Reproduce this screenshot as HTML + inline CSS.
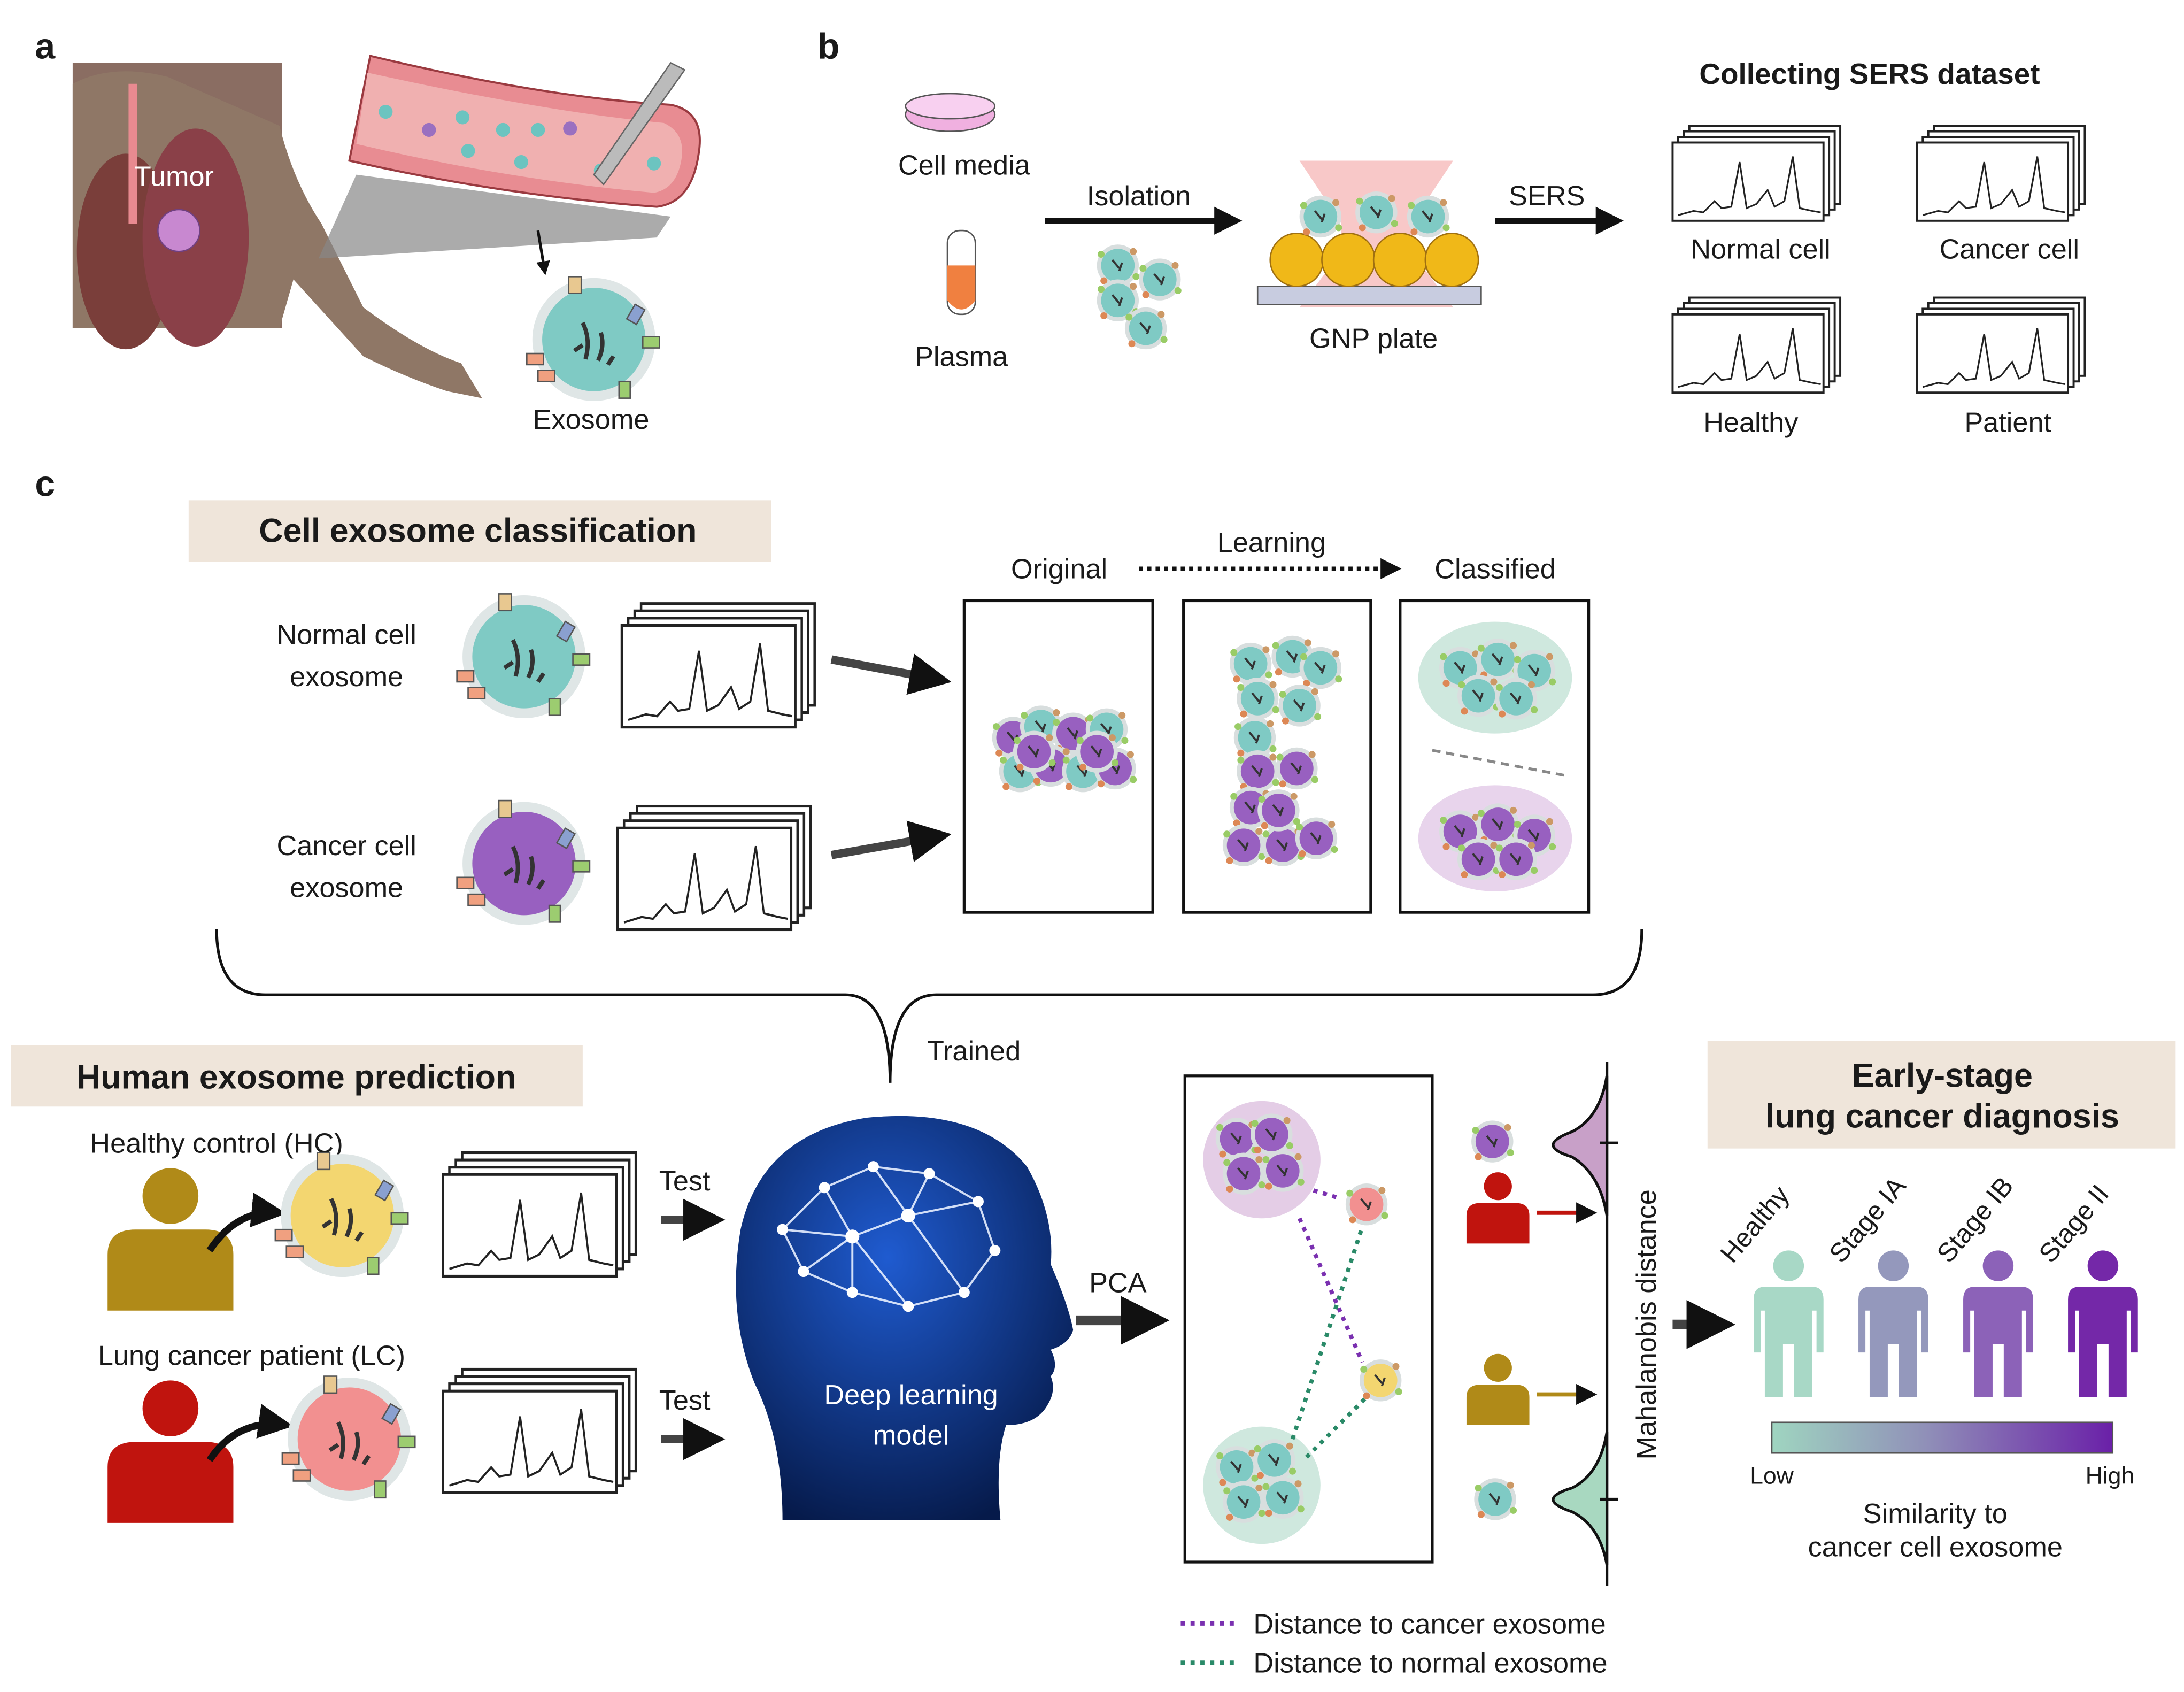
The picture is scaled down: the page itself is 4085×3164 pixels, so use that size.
<!DOCTYPE html>
<html><head><meta charset="utf-8"><style>
html,body{margin:0;padding:0;background:#fff}
svg{display:block}
text{font-family:"Liberation Sans",sans-serif;fill:#1a1a1a}
</style></head><body>
<svg width="4085" height="3164" viewBox="0 0 1563 1211" preserveAspectRatio="none" xmlns="http://www.w3.org/2000/svg">
<defs>
<g id="spec">
<rect x="12" y="-10" width="108" height="56" fill="#fff" stroke="#222" stroke-width="1.5"/>
<rect x="8" y="-6" width="108" height="56" fill="#fff" stroke="#222" stroke-width="1.5"/>
<rect x="4" y="-2" width="108" height="56" fill="#fff" stroke="#222" stroke-width="1.5"/>
<rect x="0" y="2" width="108" height="56" fill="#fff" stroke="#222" stroke-width="1.5"/>
<polyline fill="none" stroke="#222" stroke-width="1.2" points="4,54 15,51 22,52 30,44 35,49 42,48 48,16 53,49 60,46 68,36 73,48 80,44 86,12 91,49 100,51 106,52"/>
</g>
<g id="exo">
<circle r="44" fill="#dfe6e6"/>
<circle r="37" fill="currentColor"/>
<path d="M-8,-12 q6,12 2,26 M5,-5 q3,10 -2,20 M-14,8 l6,-4 M10,18 l4,-6" stroke="#333" stroke-width="3" fill="none"/>
<rect x="-18" y="-45" width="9" height="12" fill="#e8c890" stroke="#555"/>
<rect x="26" y="-24" width="8" height="12" fill="#8aa0d0" stroke="#555" transform="rotate(30 30 -18)"/>
<rect x="35" y="-2" width="12" height="8" fill="#9ccc70" stroke="#555"/>
<rect x="-48" y="10" width="12" height="8" fill="#f0a080" stroke="#555"/>
<rect x="-40" y="22" width="12" height="8" fill="#f0a080" stroke="#555"/>
<rect x="18" y="30" width="8" height="12" fill="#9ccc70" stroke="#555"/>
</g>
<g id="sexo">
<circle r="15" fill="#d8dede"/>
<circle r="12" fill="currentColor"/>
<path d="M-4,-4 l5,6 M3,-2 l-2,6" stroke="#333" stroke-width="1.5"/>
<circle cx="-12" cy="-8" r="2.5" fill="#9c6"/><circle cx="11" cy="-10" r="2.5" fill="#c96"/><circle cx="13" cy="8" r="2.5" fill="#9c6"/><circle cx="-10" cy="11" r="2.5" fill="#d85"/>
</g>
<g id="sit">
<circle cx="0" cy="-42" r="20" fill="currentColor"/>
<path d="M-45,40 L-45,0 Q-45,-18 -25,-18 L25,-18 Q45,-18 45,0 L45,40 Z" fill="currentColor"/>
</g>
<g id="stand">
<circle cx="0" cy="-44" r="11" fill="currentColor"/>
<path d="M-17,-29 Q-25,-29 -25,-20 L-25,18 L-20,18 L-20,-12 L-17,-12 L-17,50 L-4,50 L-4,12 L4,12 L4,50 L17,50 L17,-12 L20,-12 L20,18 L25,18 L25,-20 Q25,-29 17,-29 Z" fill="currentColor"/>
</g>
<linearGradient id="grad" x1="0" x2="1"><stop offset="0" stop-color="#9fd5c0"/><stop offset="0.45" stop-color="#9090b8"/><stop offset="1" stop-color="#6a20a8"/></linearGradient>
<radialGradient id="headg" cx="0.45" cy="0.35" r="0.7"><stop offset="0" stop-color="#1f5bd0"/><stop offset="1" stop-color="#061a4a"/></radialGradient>
<marker id="ah" viewBox="0 0 10 10" refX="8" refY="5" markerWidth="5" markerHeight="5" orient="auto"><path d="M0,0 L10,5 L0,10 Z" fill="#111"/></marker>
</defs>

<!-- panel a -->
<text x="25" y="42" font-size="26" font-weight="bold">a</text>
<rect x="52" y="45" width="150" height="190" fill="#8a6d62"/>
<path d="M52,60 Q80,45 120,55 L200,90 Q210,130 230,160 L260,220 Q300,250 330,260 L345,285 L320,280 Q290,270 260,255 L210,200 L200,235 L52,235 Z" fill="#8f7766"/>
<ellipse cx="90" cy="180" rx="35" ry="70" fill="#7a3e3a"/>
<ellipse cx="140" cy="170" rx="38" ry="78" fill="#8a4048"/>
<rect x="92" y="60" width="6" height="100" fill="#e88a90"/>
<circle cx="128" cy="165" r="15" fill="#c888d0" stroke="#704080"/>
<text x="96" y="133" font-size="20" style="fill:#fff">Tumor</text>
<path d="M228,185 L255,125 L480,155 L470,170 Z" fill="#888" opacity="0.7"/>
<path d="M265,40 Q390,70 480,75 Q505,80 500,110 Q495,145 470,148 Q360,140 250,115 Z" fill="#e88c92" stroke="#9a3a40" stroke-width="1.5"/>
<path d="M263,52 Q390,80 475,88 Q490,95 488,112 Q485,135 468,138 Q360,128 255,103 Z" fill="#f0b0b0"/>
<g fill="#6cc4c0"><circle cx="276" cy="80" r="5"/><circle cx="331" cy="84" r="5"/><circle cx="360" cy="93" r="5"/><circle cx="385" cy="93" r="5"/><circle cx="335" cy="108" r="5"/><circle cx="373" cy="116" r="5"/><circle cx="430" cy="122" r="5"/><circle cx="468" cy="117" r="5"/><circle cx="450" cy="98" r="5"/></g>
<g fill="#9a70c0"><circle cx="307" cy="93" r="5"/><circle cx="408" cy="92" r="5"/></g>
<path d="M425,125 L480,45 L490,50 L432,132 Z" fill="#bbb" stroke="#666"/>
<line x1="385" y1="165" x2="390" y2="195" stroke="#111" stroke-width="2" marker-end="url(#ah)"/>
<use href="#exo" x="425" y="243" style="color:#7fcac4"/>
<text x="423" y="307" font-size="20" text-anchor="middle">Exosome</text>

<!-- panel b -->
<text x="585" y="42" font-size="26" font-weight="bold">b</text>
<ellipse cx="680" cy="82" rx="32" ry="12" fill="#f0b0e0" stroke="#555"/>
<ellipse cx="680" cy="76" rx="32" ry="9" fill="#f8d0f0" stroke="#555"/>
<text x="690" y="125" font-size="20" text-anchor="middle">Cell media</text>
<rect x="678" y="165" width="20" height="60" rx="9" fill="#fff" stroke="#555"/>
<path d="M678,190 L698,190 L698,215 Q688,228 678,215 Z" fill="#f08040"/>
<text x="688" y="262" font-size="20" text-anchor="middle">Plasma</text>
<line x1="748" y1="158" x2="885" y2="158" stroke="#111" stroke-width="4" marker-end="url(#ah)"/>
<text x="815" y="147" font-size="20" text-anchor="middle">Isolation</text>
<use href="#sexo" x="800" y="190" style="color:#7fcac4"/><use href="#sexo" x="830" y="200" style="color:#7fcac4"/><use href="#sexo" x="800" y="215" style="color:#7fcac4"/><use href="#sexo" x="820" y="235" style="color:#7fcac4"/>
<path d="M930,115 L1040,115 L1010,160 L1010,180 L1040,220 L930,220 L960,180 L960,160 Z" fill="#f8c8c8"/>
<rect x="900" y="205" width="160" height="13" fill="#c8cce0" stroke="#555"/>
<g fill="#f0b818" stroke="#a07010"><circle cx="928" cy="186" r="19"/><circle cx="965" cy="186" r="19"/><circle cx="1002" cy="186" r="19"/><circle cx="1039" cy="186" r="19"/></g>
<use href="#sexo" x="945" y="155" style="color:#7fcac4"/><use href="#sexo" x="985" y="152" style="color:#7fcac4"/><use href="#sexo" x="1022" y="155" style="color:#7fcac4"/>
<text x="983" y="249" font-size="20" text-anchor="middle">GNP plate</text>
<line x1="1070" y1="158" x2="1158" y2="158" stroke="#111" stroke-width="4" marker-end="url(#ah)"/>
<text x="1107" y="147" font-size="20" text-anchor="middle">SERS</text>
<text x="1338" y="60" font-size="21" font-weight="bold" text-anchor="middle">Collecting SERS dataset</text>
<use href="#spec" x="1197" y="100"/><use href="#spec" x="1372" y="100"/><use href="#spec" x="1197" y="223"/><use href="#spec" x="1372" y="223"/>
<text x="1260" y="185" font-size="20" text-anchor="middle">Normal cell</text>
<text x="1438" y="185" font-size="20" text-anchor="middle">Cancer cell</text>
<text x="1253" y="309" font-size="20" text-anchor="middle">Healthy</text>
<text x="1437" y="309" font-size="20" text-anchor="middle">Patient</text>

<!-- panel c top -->
<text x="25" y="355" font-size="26" font-weight="bold">c</text>
<rect x="135" y="358" width="417" height="44" fill="#efe5da"/>
<text x="342" y="388" font-size="24" font-weight="bold" text-anchor="middle">Cell exosome classification</text>
<text x="248" y="461" font-size="20" text-anchor="middle">Normal cell</text>
<text x="248" y="491" font-size="20" text-anchor="middle">exosome</text>
<use href="#exo" x="375" y="470" style="color:#7fcac4"/>
<g transform="translate(445,445) scale(1.15,1.3)"><use href="#spec"/></g>
<line x1="595" y1="472" x2="675" y2="487" stroke="#444" stroke-width="6" marker-end="url(#ah)"/>
<text x="248" y="612" font-size="20" text-anchor="middle">Cancer cell</text>
<text x="248" y="642" font-size="20" text-anchor="middle">exosome</text>
<use href="#exo" x="375" y="618" style="color:#9860c0"/>
<g transform="translate(442,590) scale(1.15,1.3)"><use href="#spec"/></g>
<line x1="595" y1="612" x2="675" y2="598" stroke="#444" stroke-width="6" marker-end="url(#ah)"/>
<text x="758" y="414" font-size="20" text-anchor="middle">Original</text>
<line x1="815" y1="407" x2="1000" y2="407" stroke="#111" stroke-width="3" stroke-dasharray="3,3" marker-end="url(#ah)"/>
<text x="910" y="395" font-size="20" text-anchor="middle">Learning</text>
<text x="1070" y="414" font-size="20" text-anchor="middle">Classified</text>
<rect x="690" y="430" width="135" height="223" fill="#fff" stroke="#111" stroke-width="2"/>
<rect x="847" y="430" width="134" height="223" fill="#fff" stroke="#111" stroke-width="2"/>
<rect x="1002" y="430" width="135" height="223" fill="#fff" stroke="#111" stroke-width="2"/>
<g>
<use href="#sexo" x="725" y="528" style="color:#9860c0"/><use href="#sexo" x="745" y="520" style="color:#7fcac4"/><use href="#sexo" x="768" y="525" style="color:#9860c0"/><use href="#sexo" x="792" y="522" style="color:#7fcac4"/><use href="#sexo" x="730" y="552" style="color:#7fcac4"/><use href="#sexo" x="752" y="548" style="color:#9860c0"/><use href="#sexo" x="775" y="552" style="color:#7fcac4"/><use href="#sexo" x="798" y="550" style="color:#9860c0"/><use href="#sexo" x="740" y="538" style="color:#9860c0"/><use href="#sexo" x="785" y="538" style="color:#9860c0"/>
</g>
<g>
<use href="#sexo" x="895" y="475" style="color:#7fcac4"/><use href="#sexo" x="925" y="470" style="color:#7fcac4"/><use href="#sexo" x="945" y="478" style="color:#7fcac4"/><use href="#sexo" x="900" y="500" style="color:#7fcac4"/><use href="#sexo" x="930" y="505" style="color:#7fcac4"/><use href="#sexo" x="898" y="528" style="color:#7fcac4"/><use href="#sexo" x="900" y="552" style="color:#9860c0"/><use href="#sexo" x="928" y="550" style="color:#9860c0"/><use href="#sexo" x="895" y="578" style="color:#9860c0"/><use href="#sexo" x="890" y="605" style="color:#9860c0"/><use href="#sexo" x="918" y="605" style="color:#9860c0"/><use href="#sexo" x="942" y="600" style="color:#9860c0"/><use href="#sexo" x="915" y="580" style="color:#9860c0"/>
</g>
<ellipse cx="1070" cy="485" rx="55" ry="40" fill="#cfe8de"/>
<use href="#sexo" x="1045" y="478" style="color:#7fcac4"/><use href="#sexo" x="1072" y="472" style="color:#7fcac4"/><use href="#sexo" x="1098" y="480" style="color:#7fcac4"/><use href="#sexo" x="1058" y="498" style="color:#7fcac4"/><use href="#sexo" x="1085" y="500" style="color:#7fcac4"/>
<line x1="1025" y1="537" x2="1120" y2="555" stroke="#888" stroke-width="2" stroke-dasharray="6,4"/>
<ellipse cx="1070" cy="600" rx="55" ry="38" fill="#e8d4ec"/>
<use href="#sexo" x="1045" y="595" style="color:#9860c0"/><use href="#sexo" x="1072" y="590" style="color:#9860c0"/><use href="#sexo" x="1098" y="598" style="color:#9860c0"/><use href="#sexo" x="1058" y="615" style="color:#9860c0"/><use href="#sexo" x="1085" y="615" style="color:#9860c0"/>
<path d="M155,665 Q155,712 190,712 L605,712 Q637,712 637,775 Q637,712 670,712 L1140,712 Q1175,712 1175,665" fill="none" stroke="#111" stroke-width="2"/>
<text x="697" y="759" font-size="20" text-anchor="middle">Trained</text>

<!-- human prediction -->
<rect x="8" y="748" width="409" height="44" fill="#efe5da"/>
<text x="212" y="779" font-size="24" font-weight="bold" text-anchor="middle">Human exosome prediction</text>
<text x="155" y="825" font-size="20" text-anchor="middle">Healthy control (HC)</text>
<use href="#sit" x="122" y="898" style="color:#b08a18"/>
<path d="M150,895 Q170,865 200,868" fill="none" stroke="#111" stroke-width="5" marker-end="url(#ah)"/>
<use href="#exo" x="245" y="870" style="color:#f3d670"/>
<g transform="translate(317,838) scale(1.15,1.3)"><use href="#spec"/></g>
<text x="490" y="852" font-size="20" text-anchor="middle">Test</text>
<line x1="473" y1="873" x2="513" y2="873" stroke="#444" stroke-width="6" marker-end="url(#ah)"/>
<text x="180" y="977" font-size="20" text-anchor="middle">Lung cancer patient (LC)</text>
<use href="#sit" x="122" y="1050" style="color:#c0140e"/>
<path d="M150,1045 Q170,1015 205,1020" fill="none" stroke="#111" stroke-width="5" marker-end="url(#ah)"/>
<use href="#exo" x="250" y="1030" style="color:#f29090"/>
<g transform="translate(317,993) scale(1.15,1.3)"><use href="#spec"/></g>
<text x="490" y="1009" font-size="20" text-anchor="middle">Test</text>
<line x1="473" y1="1030" x2="513" y2="1030" stroke="#444" stroke-width="6" marker-end="url(#ah)"/>

<!-- head -->
<path d="M560,1088 Q560,1030 540,990 Q520,940 530,880 Q545,812 620,800 Q700,792 735,835 Q755,870 752,905 Q765,935 768,952 Q765,962 752,966 Q758,978 752,985 Q756,995 750,1005 Q742,1020 720,1020 Q712,1045 716,1088 Z" fill="url(#headg)"/>
<g stroke="#e8f0ff" stroke-width="1.5" fill="none" opacity="0.9">
<path d="M560,880 L590,850 L625,835 L665,840 L700,860 L712,895 L690,925 L650,935 L610,925 L575,910 Z M590,850 L610,885 L650,870 L665,840 M610,885 L575,910 M650,870 L690,925 M650,870 L700,860 M610,885 L650,935 M625,835 L650,870 M610,925 L610,885 M560,880 L610,885"/>
</g>
<g fill="#fff"><circle cx="560" cy="880" r="4"/><circle cx="590" cy="850" r="4"/><circle cx="625" cy="835" r="4"/><circle cx="665" cy="840" r="4"/><circle cx="700" cy="860" r="4"/><circle cx="712" cy="895" r="4"/><circle cx="690" cy="925" r="4"/><circle cx="650" cy="935" r="4"/><circle cx="610" cy="925" r="4"/><circle cx="575" cy="910" r="4"/><circle cx="610" cy="885" r="5"/><circle cx="650" cy="870" r="5"/></g>
<text x="652" y="1005" font-size="20" text-anchor="middle" style="fill:#fff">Deep learning</text>
<text x="652" y="1034" font-size="20" text-anchor="middle" style="fill:#fff">model</text>
<text x="800" y="925" font-size="20" text-anchor="middle">PCA</text>
<line x1="770" y1="945" x2="830" y2="945" stroke="#444" stroke-width="7" marker-end="url(#ah)"/>

<!-- PCA box -->
<rect x="848" y="770" width="177" height="348" fill="#fff" stroke="#111" stroke-width="2"/>
<circle cx="903" cy="830" r="42" fill="#e4cde6"/>
<use href="#sexo" x="885" y="815" style="color:#9860c0"/><use href="#sexo" x="910" y="812" style="color:#9860c0"/><use href="#sexo" x="890" y="840" style="color:#9860c0"/><use href="#sexo" x="918" y="838" style="color:#9860c0"/>
<circle cx="903" cy="1063" r="42" fill="#cfe8de"/>
<use href="#sexo" x="885" y="1050" style="color:#7fcac4"/><use href="#sexo" x="912" y="1045" style="color:#7fcac4"/><use href="#sexo" x="890" y="1075" style="color:#7fcac4"/><use href="#sexo" x="918" y="1072" style="color:#7fcac4"/>
<g stroke="#7a30b0" stroke-width="3" stroke-dasharray="3,4"><line x1="940" y1="852" x2="960" y2="858"/><line x1="930" y1="872" x2="975" y2="975"/></g>
<g stroke="#2a8a68" stroke-width="3" stroke-dasharray="3,4"><line x1="925" y1="1030" x2="975" y2="878"/><line x1="935" y1="1043" x2="978" y2="1000"/></g>
<use href="#sexo" x="978" y="862" style="color:#f29090"/>
<use href="#sexo" x="988" y="988" style="color:#f3d670"/>

<!-- Mahalanobis -->
<use href="#sexo" x="1068" y="817" style="color:#9860c0"/>
<g transform="translate(1072,870) scale(0.5)"><use href="#sit" style="color:#c0140e"/></g>
<line x1="1100" y1="868" x2="1140" y2="868" stroke="#c0140e" stroke-width="3" marker-end="url(#ah)"/>
<g transform="translate(1072,1000) scale(0.5)"><use href="#sit" style="color:#b08a18"/></g>
<line x1="1100" y1="998" x2="1140" y2="998" stroke="#b08a18" stroke-width="3" marker-end="url(#ah)"/>
<use href="#sexo" x="1070" y="1073" style="color:#7fcac4"/>
<path d="M1150,770 Q1145,800 1125,810 Q1098,820 1125,828 Q1145,840 1150,870 Z" fill="#c8a0c8" stroke="#111" stroke-width="2"/>
<path d="M1150,1025 Q1145,1055 1125,1065 Q1098,1073 1125,1082 Q1145,1092 1150,1120 Z" fill="#a8d8c0" stroke="#111" stroke-width="2"/>
<line x1="1150" y1="760" x2="1150" y2="1135" stroke="#111" stroke-width="2"/>
<line x1="1145" y1="818" x2="1158" y2="818" stroke="#111" stroke-width="2"/>
<line x1="1145" y1="1073" x2="1158" y2="1073" stroke="#111" stroke-width="2"/>
<text transform="translate(1185,948) rotate(-90)" font-size="20" text-anchor="middle">Mahalanobis distance</text>
<line x1="1197" y1="948" x2="1235" y2="948" stroke="#444" stroke-width="7" marker-end="url(#ah)"/>

<!-- diagnosis -->
<rect x="1222" y="745" width="335" height="77" fill="#efe5da"/>
<text x="1390" y="778" font-size="24" font-weight="bold" text-anchor="middle">Early-stage</text>
<text x="1390" y="807" font-size="24" font-weight="bold" text-anchor="middle">lung cancer diagnosis</text>
<use href="#stand" x="1280" y="950" style="color:#a8d8c6"/>
<use href="#stand" x="1355" y="950" style="color:#9498bc"/>
<use href="#stand" x="1430" y="950" style="color:#8c62b8"/>
<use href="#stand" x="1505" y="950" style="color:#7428a8"/>
<text transform="translate(1240,905) rotate(-50)" font-size="19">Healthy</text>
<text transform="translate(1318,905) rotate(-50)" font-size="19">Stage IA</text>
<text transform="translate(1395,905) rotate(-50)" font-size="19">Stage IB</text>
<text transform="translate(1468,905) rotate(-50)" font-size="19">Stage II</text>
<rect x="1268" y="1018" width="244" height="22" fill="url(#grad)" stroke="#555"/>
<text x="1268" y="1062" font-size="17" text-anchor="middle">Low</text>
<text x="1510" y="1062" font-size="17" text-anchor="middle">High</text>
<text x="1385" y="1090" font-size="20" text-anchor="middle">Similarity to</text>
<text x="1385" y="1114" font-size="20" text-anchor="middle">cancer cell exosome</text>

<!-- legend -->
<line x1="845" y1="1162" x2="885" y2="1162" stroke="#7a30b0" stroke-width="3" stroke-dasharray="3,4"/>
<text x="897" y="1169" font-size="20">Distance to cancer exosome</text>
<line x1="845" y1="1190" x2="885" y2="1190" stroke="#2a8a68" stroke-width="3" stroke-dasharray="3,4"/>
<text x="897" y="1197" font-size="20">Distance to normal exosome</text>
</svg>
</body></html>
